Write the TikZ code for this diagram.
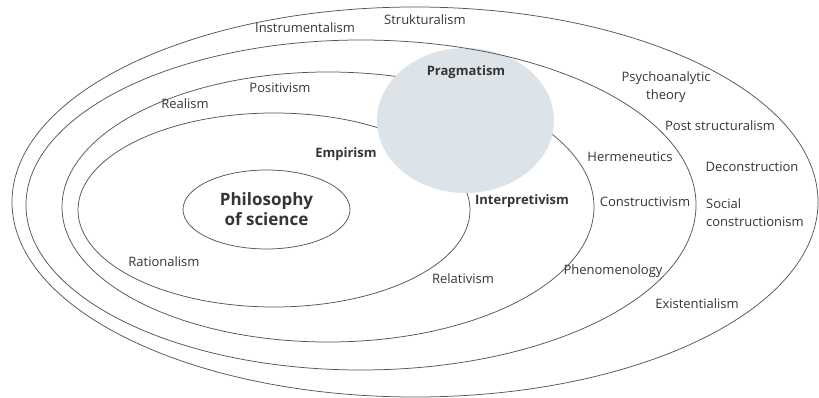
\documentclass[tikz,border=0pt]{standalone}
\usepackage{fontspec}
\setmainfont{Open Sans}
\usetikzlibrary{shapes.geometric}

\definecolor{ringgray}{HTML}{555555}
\definecolor{textgray}{HTML}{353535}
\definecolor{pragfill}{HTML}{DCE4EA}

\begin{document}
\begin{tikzpicture}[
  x=1pt, y=-1pt,
  ring/.style={ellipse, draw=ringgray, line width=0.75pt, inner sep=0pt, outer sep=0pt},
  lbl/.style={text=textgray, inner sep=0pt, font=\fontsize{13}{18}\selectfont},
  keylbl/.style={lbl, font=\fontsize{13}{18}\selectfont\bfseries}
]
\useasboundingbox (0,0) rectangle (819,398);

% RINGS: the two inner ones sit under the Pragmatism blob
\node[ring, minimum width=392pt, minimum height=194pt] (empring) at (274,210) {};
\node[ring, minimum width=532pt, minimum height=270pt] (realring) at (328,207) {};

\node[ellipse, fill=pragfill, inner sep=0pt, minimum width=177pt, minimum height=145pt] (prag) at (465.5,120.5) {};

\node[ring, minimum width=670pt, minimum height=330pt] (instring) at (361,205) {};
\node[ring, minimum width=806pt, minimum height=390pt] (outring) at (415,202) {};

% CENTRE
\node[ring, text=textgray, align=center, minimum width=167pt, minimum height=79pt,
  font=\fontsize{17}{20}\selectfont\bfseries] (phil) at (266.5,209.5) {Philosophy\\of science};

% LABELS: bold ones
\node[keylbl, anchor=base] (pragtxt) at (466,76) {Pragmatism};
\node[keylbl, anchor=base] (empir) at (346,158) {Empirism};
\node[keylbl, anchor=base] (interp) at (522,205) {Interpretivism};

% LABELS: left half
\node[lbl, anchor=base] (instr) at (305,33) {Instrumentalism};
\node[lbl, anchor=base] (struk) at (425,25) {Strukturalism};
\node[lbl, anchor=base] (posit) at (280,93) {Positivism};
\node[lbl, anchor=base] (real) at (185,109) {Realism};
\node[lbl, anchor=base] (ration) at (164,266) {Rationalism};
\node[lbl, anchor=base] (relat) at (463,283) {Relativism};

% LABELS: right half (base = last line)
\node[lbl, anchor=base, align=center] (psych) at (666,100) {Psychoanalytic\\theory};
\node[lbl, anchor=base] (poststr) at (720,131) {Post structuralism};
\node[lbl, anchor=base] (herm) at (630,162) {Hermeneutics};
\node[lbl, anchor=base] (decon) at (752,172) {Deconstruction};
\node[lbl, anchor=base] (constr) at (645,207) {Constructivism};
\node[lbl, anchor=base west, align=left] (social) at (706,226) {Social\\constructionism};
\node[lbl, anchor=base] (phen) at (613,274) {Phenomenology};
\node[lbl, anchor=base] (exist) at (697,308) {Existentialism};

\end{tikzpicture}
\end{document}
